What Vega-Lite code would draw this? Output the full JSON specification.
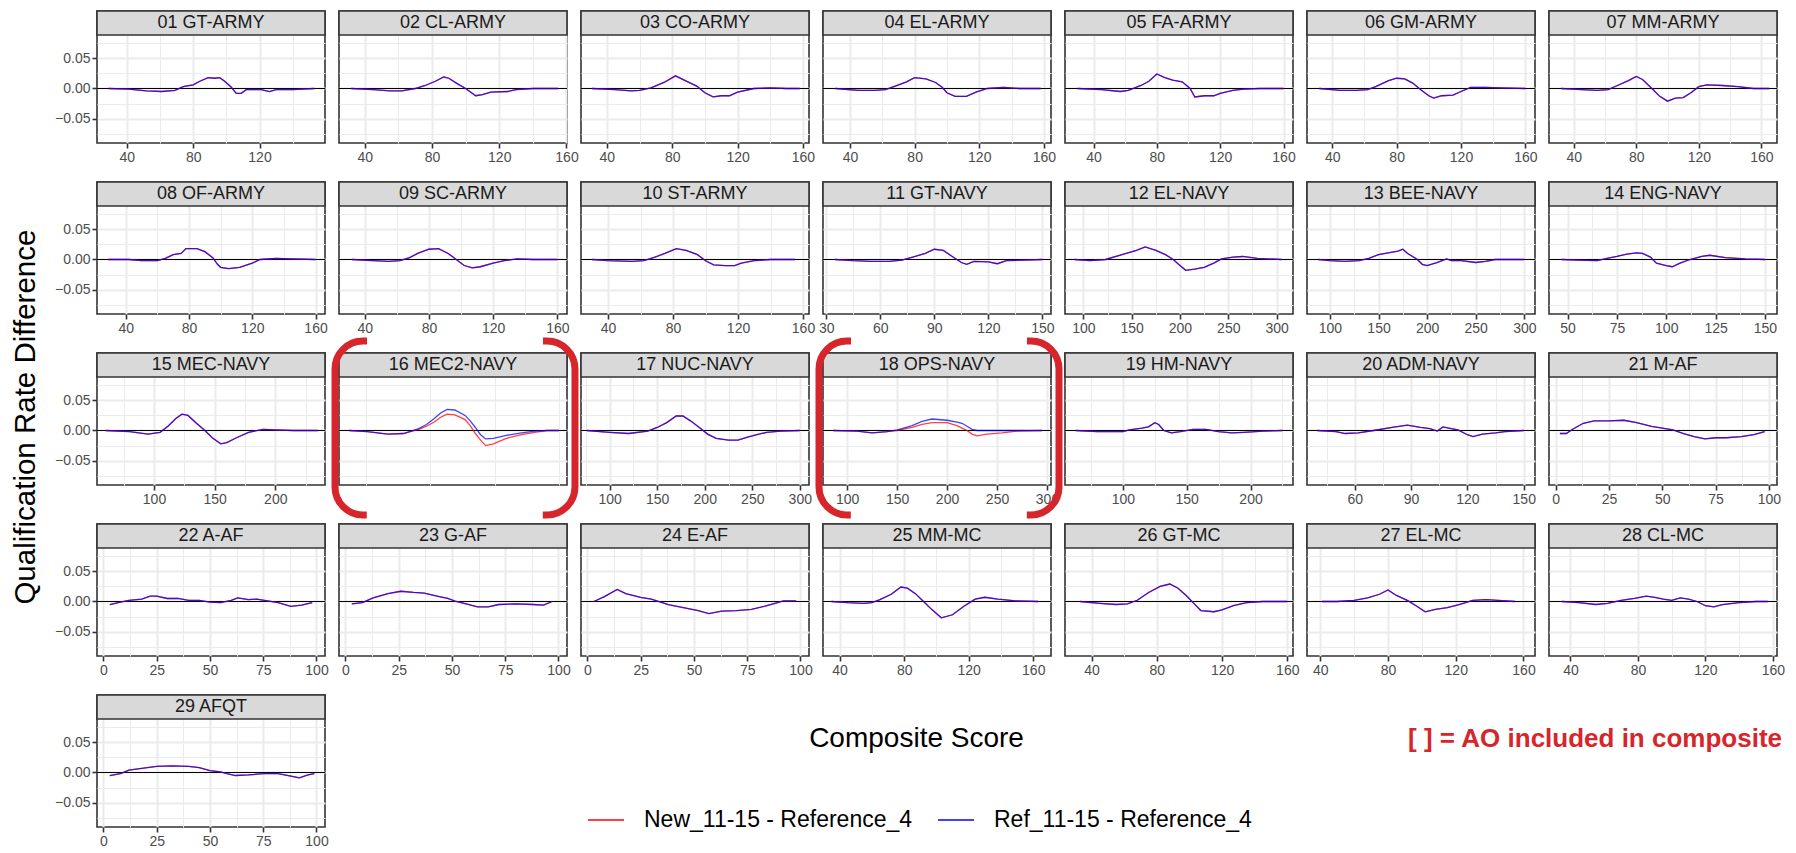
{
"$schema":"https://vega.github.io/schema/vega-lite/v6.json",
"padding":{"left":11,"top":9,"right":0,"bottom":0},
"config":{
 "font":"Liberation Sans",
 "view":{"stroke":"#333333","strokeWidth":1.6},
 "axis":{"domain":false,"grid":true,"gridColor":"#ebebeb","tickColor":"#333333","tickWidth":1.6,"tickSize":5,"labelColor":"#4d4d4d","labelFontSize":14,"labelPadding":2,"labelFlush":false,"labelOverlap":false},
 "rect":{"fill":"#d9d9d9","stroke":"#333333","strokeWidth":1.6},
 "text":{"fontSize":18,"color":"#1a1a1a","baseline":"middle"},
 "rule":{"color":"#000000","strokeWidth":1},
 "line":{"strokeWidth":1.3,"opacity":0.75},
 "legend":{"orient":"none","legendX":490,"legendY":790,"direction":"horizontal","labelFontSize":23,"labelColor":"#000000","labelLimit":0,"symbolType":"stroke","symbolSize":1296,"symbolStrokeWidth":1.5,"labelOffset":19,"columnPadding":22,"padding":0},
 "title":{"fontSize":29.5,"fontWeight":"normal","color":"#000000"}
},
"title":{"text":"Qualification Rate Difference","orient":"left","anchor":"middle","offset":12,"frame":"bounds","dx":12},
"datasets":{
"panels":[{"p":1,"name":"01 GT-ARMY"},{"p":2,"name":"02 CL-ARMY"},{"p":3,"name":"03 CO-ARMY"},{"p":4,"name":"04 EL-ARMY"},{"p":5,"name":"05 FA-ARMY"},{"p":6,"name":"06 GM-ARMY"},{"p":7,"name":"07 MM-ARMY"},{"p":8,"name":"08 OF-ARMY"},{"p":9,"name":"09 SC-ARMY"},{"p":10,"name":"10 ST-ARMY"},{"p":11,"name":"11 GT-NAVY"},{"p":12,"name":"12 EL-NAVY"},{"p":13,"name":"13 BEE-NAVY"},{"p":14,"name":"14 ENG-NAVY"},{"p":15,"name":"15 MEC-NAVY"},{"p":16,"name":"16 MEC2-NAVY"},{"p":17,"name":"17 NUC-NAVY"},{"p":18,"name":"18 OPS-NAVY"},{"p":19,"name":"19 HM-NAVY"},{"p":20,"name":"20 ADM-NAVY"},{"p":21,"name":"21 M-AF"},{"p":22,"name":"22 A-AF"},{"p":23,"name":"23 G-AF"},{"p":24,"name":"24 E-AF"},{"p":25,"name":"25 MM-MC"},{"p":26,"name":"26 GT-MC"},{"p":27,"name":"27 EL-MC"},{"p":28,"name":"28 CL-MC"},{"p":29,"name":"29 AFQT"}],
"notes":[{"k":"x","label":"Composite Score"},{"k":"ao","label":"[ ] = AO included in composite"}],
"curves":[
{"p":1,"x":29,"n":0,"r":0},{"p":1,"x":41,"n":-0.001,"r":-0.001},{"p":1,"x":52,"n":-0.004,"r":-0.004},{"p":1,"x":61,"n":-0.005,"r":-0.005},{"p":1,"x":69,"n":-0.003,"r":-0.003},{"p":1,"x":74,"n":0.003,"r":0.003},{"p":1,"x":80,"n":0.006,"r":0.006},{"p":1,"x":84,"n":0.012,"r":0.012},{"p":1,"x":89,"n":0.018,"r":0.018},{"p":1,"x":93,"n":0.017,"r":0.017},{"p":1,"x":96,"n":0.018,"r":0.018},{"p":1,"x":99,"n":0.012,"r":0.012},{"p":1,"x":103,"n":0.002,"r":0.002},{"p":1,"x":106,"n":-0.008,"r":-0.008},{"p":1,"x":109,"n":-0.008,"r":-0.008},{"p":1,"x":112,"n":-0.002,"r":-0.002},{"p":1,"x":121,"n":-0.002,"r":-0.002},{"p":1,"x":126,"n":-0.005,"r":-0.005},{"p":1,"x":130,"n":-0.002,"r":-0.002},{"p":1,"x":140,"n":-0.002,"r":-0.002},{"p":1,"x":153,"n":0,"r":0},
{"p":2,"x":32,"n":0,"r":0},{"p":2,"x":45,"n":-0.002,"r":-0.002},{"p":2,"x":55,"n":-0.004,"r":-0.004},{"p":2,"x":62,"n":-0.004,"r":-0.004},{"p":2,"x":70,"n":0,"r":0},{"p":2,"x":76,"n":0.005,"r":0.005},{"p":2,"x":82,"n":0.012,"r":0.012},{"p":2,"x":87,"n":0.019,"r":0.019},{"p":2,"x":90,"n":0.017,"r":0.017},{"p":2,"x":95,"n":0.008,"r":0.008},{"p":2,"x":100,"n":0,"r":0},{"p":2,"x":106,"n":-0.012,"r":-0.012},{"p":2,"x":110,"n":-0.010,"r":-0.010},{"p":2,"x":115,"n":-0.006,"r":-0.006},{"p":2,"x":125,"n":-0.005,"r":-0.005},{"p":2,"x":130,"n":-0.002,"r":-0.002},{"p":2,"x":140,"n":0,"r":0},{"p":2,"x":155,"n":0,"r":0},
{"p":3,"x":31,"n":0,"r":0},{"p":3,"x":45,"n":-0.002,"r":-0.002},{"p":3,"x":55,"n":-0.004,"r":-0.004},{"p":3,"x":60,"n":-0.003,"r":-0.003},{"p":3,"x":67,"n":0.001,"r":0.001},{"p":3,"x":75,"n":0.010,"r":0.010},{"p":3,"x":82,"n":0.021,"r":0.021},{"p":3,"x":88,"n":0.013,"r":0.013},{"p":3,"x":95,"n":0.004,"r":0.004},{"p":3,"x":100,"n":-0.007,"r":-0.007},{"p":3,"x":105,"n":-0.014,"r":-0.014},{"p":3,"x":110,"n":-0.012,"r":-0.012},{"p":3,"x":115,"n":-0.012,"r":-0.012},{"p":3,"x":120,"n":-0.006,"r":-0.006},{"p":3,"x":130,"n":0,"r":0},{"p":3,"x":140,"n":0.001,"r":0.001},{"p":3,"x":150,"n":0,"r":0},{"p":3,"x":158,"n":0,"r":0},
{"p":4,"x":31,"n":0,"r":0},{"p":4,"x":45,"n":-0.003,"r":-0.003},{"p":4,"x":55,"n":-0.003,"r":-0.003},{"p":4,"x":62,"n":-0.002,"r":-0.002},{"p":4,"x":68,"n":0.004,"r":0.004},{"p":4,"x":75,"n":0.011,"r":0.011},{"p":4,"x":80,"n":0.018,"r":0.018},{"p":4,"x":87,"n":0.016,"r":0.016},{"p":4,"x":93,"n":0.010,"r":0.010},{"p":4,"x":97,"n":0.002,"r":0.002},{"p":4,"x":100,"n":-0.007,"r":-0.007},{"p":4,"x":105,"n":-0.013,"r":-0.013},{"p":4,"x":112,"n":-0.013,"r":-0.013},{"p":4,"x":118,"n":-0.006,"r":-0.006},{"p":4,"x":125,"n":0,"r":0},{"p":4,"x":135,"n":0.002,"r":0.002},{"p":4,"x":145,"n":0,"r":0},{"p":4,"x":158,"n":0,"r":0},
{"p":5,"x":30,"n":0,"r":0},{"p":5,"x":45,"n":-0.002,"r":-0.002},{"p":5,"x":57,"n":-0.005,"r":-0.005},{"p":5,"x":62,"n":-0.003,"r":-0.003},{"p":5,"x":70,"n":0.005,"r":0.005},{"p":5,"x":75,"n":0.012,"r":0.012},{"p":5,"x":80,"n":0.024,"r":0.024},{"p":5,"x":85,"n":0.018,"r":0.018},{"p":5,"x":90,"n":0.014,"r":0.014},{"p":5,"x":96,"n":0.011,"r":0.011},{"p":5,"x":101,"n":0,"r":0},{"p":5,"x":104,"n":-0.014,"r":-0.014},{"p":5,"x":110,"n":-0.012,"r":-0.012},{"p":5,"x":116,"n":-0.012,"r":-0.012},{"p":5,"x":120,"n":-0.008,"r":-0.008},{"p":5,"x":128,"n":-0.003,"r":-0.003},{"p":5,"x":135,"n":-0.001,"r":-0.001},{"p":5,"x":145,"n":0,"r":0},{"p":5,"x":160,"n":0,"r":0},
{"p":6,"x":32,"n":0,"r":0},{"p":6,"x":45,"n":-0.003,"r":-0.003},{"p":6,"x":55,"n":-0.003,"r":-0.003},{"p":6,"x":62,"n":-0.002,"r":-0.002},{"p":6,"x":67,"n":0.003,"r":0.003},{"p":6,"x":75,"n":0.013,"r":0.013},{"p":6,"x":80,"n":0.017,"r":0.017},{"p":6,"x":85,"n":0.016,"r":0.016},{"p":6,"x":90,"n":0.009,"r":0.009},{"p":6,"x":95,"n":-0.002,"r":-0.002},{"p":6,"x":100,"n":-0.012,"r":-0.012},{"p":6,"x":103,"n":-0.016,"r":-0.016},{"p":6,"x":108,"n":-0.012,"r":-0.012},{"p":6,"x":115,"n":-0.011,"r":-0.011},{"p":6,"x":120,"n":-0.005,"r":-0.005},{"p":6,"x":126,"n":0.002,"r":0.002},{"p":6,"x":135,"n":0.002,"r":0.002},{"p":6,"x":145,"n":0.001,"r":0.001},{"p":6,"x":160,"n":0,"r":0},
{"p":7,"x":32,"n":0,"r":0},{"p":7,"x":45,"n":-0.002,"r":-0.002},{"p":7,"x":55,"n":-0.003,"r":-0.003},{"p":7,"x":62,"n":-0.002,"r":-0.002},{"p":7,"x":68,"n":0.005,"r":0.005},{"p":7,"x":75,"n":0.013,"r":0.013},{"p":7,"x":80,"n":0.020,"r":0.020},{"p":7,"x":84,"n":0.015,"r":0.015},{"p":7,"x":90,"n":0,"r":0},{"p":7,"x":95,"n":-0.013,"r":-0.013},{"p":7,"x":100,"n":-0.021,"r":-0.021},{"p":7,"x":105,"n":-0.016,"r":-0.016},{"p":7,"x":110,"n":-0.015,"r":-0.015},{"p":7,"x":115,"n":-0.007,"r":-0.007},{"p":7,"x":120,"n":0.003,"r":0.003},{"p":7,"x":125,"n":0.006,"r":0.006},{"p":7,"x":135,"n":0.005,"r":0.005},{"p":7,"x":145,"n":0.003,"r":0.003},{"p":7,"x":155,"n":0,"r":0},{"p":7,"x":165,"n":0,"r":0},
{"p":8,"x":29,"n":0,"r":0},{"p":8,"x":42,"n":0,"r":0},{"p":8,"x":50,"n":-0.002,"r":-0.002},{"p":8,"x":60,"n":-0.002,"r":-0.002},{"p":8,"x":65,"n":0.002,"r":0.002},{"p":8,"x":70,"n":0.008,"r":0.008},{"p":8,"x":75,"n":0.010,"r":0.010},{"p":8,"x":78,"n":0.018,"r":0.018},{"p":8,"x":85,"n":0.018,"r":0.018},{"p":8,"x":90,"n":0.013,"r":0.013},{"p":8,"x":95,"n":0.003,"r":0.003},{"p":8,"x":98,"n":-0.008,"r":-0.008},{"p":8,"x":100,"n":-0.013,"r":-0.013},{"p":8,"x":105,"n":-0.015,"r":-0.015},{"p":8,"x":112,"n":-0.013,"r":-0.013},{"p":8,"x":120,"n":-0.006,"r":-0.006},{"p":8,"x":125,"n":0,"r":0},{"p":8,"x":135,"n":0.002,"r":0.002},{"p":8,"x":145,"n":0.001,"r":0.001},{"p":8,"x":160,"n":0,"r":0},
{"p":9,"x":32,"n":0,"r":0},{"p":9,"x":45,"n":-0.002,"r":-0.002},{"p":9,"x":55,"n":-0.003,"r":-0.003},{"p":9,"x":62,"n":-0.002,"r":-0.002},{"p":9,"x":68,"n":0.003,"r":0.003},{"p":9,"x":73,"n":0.010,"r":0.010},{"p":9,"x":80,"n":0.017,"r":0.017},{"p":9,"x":86,"n":0.018,"r":0.018},{"p":9,"x":92,"n":0.010,"r":0.010},{"p":9,"x":97,"n":0,"r":0},{"p":9,"x":102,"n":-0.010,"r":-0.010},{"p":9,"x":107,"n":-0.014,"r":-0.014},{"p":9,"x":112,"n":-0.012,"r":-0.012},{"p":9,"x":120,"n":-0.006,"r":-0.006},{"p":9,"x":127,"n":-0.002,"r":-0.002},{"p":9,"x":135,"n":0.001,"r":0.001},{"p":9,"x":145,"n":0,"r":0},{"p":9,"x":160,"n":0,"r":0},
{"p":10,"x":30,"n":0,"r":0},{"p":10,"x":40,"n":-0.002,"r":-0.002},{"p":10,"x":55,"n":-0.003,"r":-0.003},{"p":10,"x":62,"n":-0.002,"r":-0.002},{"p":10,"x":68,"n":0.003,"r":0.003},{"p":10,"x":75,"n":0.010,"r":0.010},{"p":10,"x":82,"n":0.018,"r":0.018},{"p":10,"x":88,"n":0.015,"r":0.015},{"p":10,"x":95,"n":0.008,"r":0.008},{"p":10,"x":100,"n":-0.002,"r":-0.002},{"p":10,"x":105,"n":-0.009,"r":-0.009},{"p":10,"x":112,"n":-0.010,"r":-0.010},{"p":10,"x":118,"n":-0.010,"r":-0.010},{"p":10,"x":122,"n":-0.006,"r":-0.006},{"p":10,"x":130,"n":-0.002,"r":-0.002},{"p":10,"x":140,"n":0,"r":0},{"p":10,"x":155,"n":0,"r":0},
{"p":11,"x":35,"n":0,"r":0},{"p":11,"x":45,"n":-0.002,"r":-0.002},{"p":11,"x":55,"n":-0.003,"r":-0.003},{"p":11,"x":65,"n":-0.003,"r":-0.003},{"p":11,"x":72,"n":-0.001,"r":-0.001},{"p":11,"x":78,"n":0.004,"r":0.004},{"p":11,"x":85,"n":0.010,"r":0.010},{"p":11,"x":90,"n":0.017,"r":0.017},{"p":11,"x":95,"n":0.015,"r":0.015},{"p":11,"x":100,"n":0.005,"r":0.005},{"p":11,"x":105,"n":-0.005,"r":-0.005},{"p":11,"x":108,"n":-0.008,"r":-0.008},{"p":11,"x":112,"n":-0.003,"r":-0.003},{"p":11,"x":120,"n":-0.004,"r":-0.004},{"p":11,"x":125,"n":-0.007,"r":-0.007},{"p":11,"x":130,"n":-0.002,"r":-0.002},{"p":11,"x":140,"n":-0.001,"r":-0.001},{"p":11,"x":150,"n":0,"r":0},
{"p":12,"x":91,"n":0,"r":0},{"p":12,"x":107,"n":-0.002,"r":-0.002},{"p":12,"x":123,"n":0,"r":0},{"p":12,"x":140,"n":0.008,"r":0.008},{"p":12,"x":155,"n":0.015,"r":0.015},{"p":12,"x":164,"n":0.021,"r":0.021},{"p":12,"x":175,"n":0.015,"r":0.015},{"p":12,"x":185,"n":0.008,"r":0.008},{"p":12,"x":193,"n":0,"r":0},{"p":12,"x":200,"n":-0.010,"r":-0.010},{"p":12,"x":206,"n":-0.018,"r":-0.018},{"p":12,"x":215,"n":-0.016,"r":-0.016},{"p":12,"x":225,"n":-0.013,"r":-0.013},{"p":12,"x":235,"n":-0.006,"r":-0.006},{"p":12,"x":243,"n":0.001,"r":0.001},{"p":12,"x":255,"n":0.004,"r":0.004},{"p":12,"x":265,"n":0.005,"r":0.005},{"p":12,"x":280,"n":0.002,"r":0.002},{"p":12,"x":305,"n":0,"r":0},
{"p":13,"x":88,"n":0,"r":0},{"p":13,"x":100,"n":-0.002,"r":-0.002},{"p":13,"x":115,"n":-0.003,"r":-0.003},{"p":13,"x":130,"n":-0.002,"r":-0.002},{"p":13,"x":140,"n":0.002,"r":0.002},{"p":13,"x":150,"n":0.008,"r":0.008},{"p":13,"x":160,"n":0.011,"r":0.011},{"p":13,"x":170,"n":0.014,"r":0.014},{"p":13,"x":175,"n":0.017,"r":0.017},{"p":13,"x":180,"n":0.010,"r":0.010},{"p":13,"x":190,"n":0,"r":0},{"p":13,"x":195,"n":-0.008,"r":-0.008},{"p":13,"x":200,"n":-0.010,"r":-0.010},{"p":13,"x":210,"n":-0.005,"r":-0.005},{"p":13,"x":220,"n":0.001,"r":0.001},{"p":13,"x":225,"n":-0.002,"r":-0.002},{"p":13,"x":235,"n":-0.002,"r":-0.002},{"p":13,"x":250,"n":-0.005,"r":-0.005},{"p":13,"x":260,"n":-0.003,"r":-0.003},{"p":13,"x":270,"n":0,"r":0},{"p":13,"x":300,"n":0,"r":0},
{"p":14,"x":47,"n":0,"r":0},{"p":14,"x":55,"n":-0.001,"r":-0.001},{"p":14,"x":65,"n":-0.002,"r":-0.002},{"p":14,"x":70,"n":0.002,"r":0.002},{"p":14,"x":75,"n":0.005,"r":0.005},{"p":14,"x":80,"n":0.009,"r":0.009},{"p":14,"x":85,"n":0.011,"r":0.011},{"p":14,"x":88,"n":0.010,"r":0.010},{"p":14,"x":92,"n":0.004,"r":0.004},{"p":14,"x":95,"n":-0.006,"r":-0.006},{"p":14,"x":100,"n":-0.010,"r":-0.010},{"p":14,"x":103,"n":-0.012,"r":-0.012},{"p":14,"x":107,"n":-0.006,"r":-0.006},{"p":14,"x":112,"n":0,"r":0},{"p":14,"x":118,"n":0.005,"r":0.005},{"p":14,"x":122,"n":0.007,"r":0.007},{"p":14,"x":130,"n":0.003,"r":0.003},{"p":14,"x":140,"n":0.001,"r":0.001},{"p":14,"x":150,"n":0,"r":0},
{"p":15,"x":60,"n":0,"r":0},{"p":15,"x":80,"n":-0.002,"r":-0.002},{"p":15,"x":95,"n":-0.006,"r":-0.006},{"p":15,"x":105,"n":-0.003,"r":-0.003},{"p":15,"x":112,"n":0.008,"r":0.008},{"p":15,"x":118,"n":0.020,"r":0.020},{"p":15,"x":123,"n":0.027,"r":0.027},{"p":15,"x":128,"n":0.025,"r":0.025},{"p":15,"x":135,"n":0.012,"r":0.012},{"p":15,"x":142,"n":0,"r":0},{"p":15,"x":148,"n":-0.012,"r":-0.012},{"p":15,"x":155,"n":-0.022,"r":-0.022},{"p":15,"x":160,"n":-0.020,"r":-0.020},{"p":15,"x":168,"n":-0.012,"r":-0.012},{"p":15,"x":178,"n":-0.003,"r":-0.003},{"p":15,"x":190,"n":0.002,"r":0.002},{"p":15,"x":200,"n":0.001,"r":0.001},{"p":15,"x":215,"n":0,"r":0},{"p":15,"x":235,"n":0,"r":0},
{"p":16,"x":62,"n":0,"r":0},{"p":16,"x":76,"n":-0.002,"r":-0.002},{"p":16,"x":92,"n":-0.006,"r":-0.006},{"p":16,"x":104,"n":-0.005,"r":-0.005},{"p":16,"x":116,"n":0.002,"r":0.003},{"p":16,"x":122,"n":0.007,"r":0.010},{"p":16,"x":128,"n":0.014,"r":0.020},{"p":16,"x":133,"n":0.022,"r":0.029},{"p":16,"x":138,"n":0.027,"r":0.035},{"p":16,"x":144,"n":0.026,"r":0.034},{"p":16,"x":152,"n":0.018,"r":0.025},{"p":16,"x":156,"n":0.008,"r":0.016},{"p":16,"x":160,"n":-0.005,"r":0.005},{"p":16,"x":164,"n":-0.016,"r":-0.007},{"p":16,"x":168,"n":-0.025,"r":-0.014},{"p":16,"x":174,"n":-0.022,"r":-0.013},{"p":16,"x":184,"n":-0.013,"r":-0.008},{"p":16,"x":196,"n":-0.007,"r":-0.004},{"p":16,"x":206,"n":-0.003,"r":-0.001},{"p":16,"x":216,"n":0,"r":0},{"p":16,"x":225,"n":0,"r":0},
{"p":17,"x":76,"n":0,"r":0},{"p":17,"x":100,"n":-0.003,"r":-0.003},{"p":17,"x":120,"n":-0.005,"r":-0.005},{"p":17,"x":140,"n":-0.001,"r":-0.001},{"p":17,"x":150,"n":0.005,"r":0.005},{"p":17,"x":160,"n":0.013,"r":0.013},{"p":17,"x":170,"n":0.024,"r":0.024},{"p":17,"x":177,"n":0.024,"r":0.024},{"p":17,"x":185,"n":0.016,"r":0.016},{"p":17,"x":195,"n":0.004,"r":0.004},{"p":17,"x":203,"n":-0.006,"r":-0.006},{"p":17,"x":212,"n":-0.013,"r":-0.013},{"p":17,"x":225,"n":-0.016,"r":-0.016},{"p":17,"x":235,"n":-0.016,"r":-0.016},{"p":17,"x":245,"n":-0.011,"r":-0.011},{"p":17,"x":255,"n":-0.007,"r":-0.007},{"p":17,"x":265,"n":-0.003,"r":-0.003},{"p":17,"x":280,"n":-0.001,"r":-0.001},{"p":17,"x":300,"n":0,"r":0},
{"p":18,"x":86,"n":0,"r":0},{"p":18,"x":110,"n":-0.001,"r":-0.001},{"p":18,"x":125,"n":-0.004,"r":-0.004},{"p":18,"x":140,"n":-0.002,"r":-0.002},{"p":18,"x":150,"n":0,"r":0.001},{"p":18,"x":155,"n":0.002,"r":0.003},{"p":18,"x":165,"n":0.005,"r":0.008},{"p":18,"x":175,"n":0.010,"r":0.015},{"p":18,"x":185,"n":0.013,"r":0.019},{"p":18,"x":200,"n":0.013,"r":0.017},{"p":18,"x":210,"n":0.008,"r":0.014},{"p":18,"x":215,"n":0.004,"r":0.012},{"p":18,"x":220,"n":0,"r":0.007},{"p":18,"x":225,"n":-0.006,"r":0.002},{"p":18,"x":230,"n":-0.009,"r":0},{"p":18,"x":240,"n":-0.006,"r":0},{"p":18,"x":255,"n":-0.004,"r":0},{"p":18,"x":270,"n":-0.001,"r":0},{"p":18,"x":295,"n":0,"r":0},
{"p":19,"x":63,"n":0,"r":0},{"p":19,"x":80,"n":-0.002,"r":-0.002},{"p":19,"x":100,"n":-0.002,"r":-0.002},{"p":19,"x":105,"n":0.001,"r":0.001},{"p":19,"x":115,"n":0.004,"r":0.004},{"p":19,"x":120,"n":0.006,"r":0.006},{"p":19,"x":125,"n":0.013,"r":0.013},{"p":19,"x":128,"n":0.010,"r":0.010},{"p":19,"x":132,"n":0,"r":0},{"p":19,"x":138,"n":-0.004,"r":-0.004},{"p":19,"x":145,"n":-0.002,"r":-0.002},{"p":19,"x":155,"n":0.002,"r":0.002},{"p":19,"x":165,"n":0.002,"r":0.002},{"p":19,"x":175,"n":-0.002,"r":-0.002},{"p":19,"x":185,"n":-0.004,"r":-0.004},{"p":19,"x":195,"n":-0.003,"r":-0.003},{"p":19,"x":210,"n":-0.001,"r":-0.001},{"p":19,"x":225,"n":0,"r":0},
{"p":20,"x":40,"n":0,"r":0},{"p":20,"x":50,"n":-0.002,"r":-0.002},{"p":20,"x":55,"n":-0.005,"r":-0.005},{"p":20,"x":62,"n":-0.004,"r":-0.004},{"p":20,"x":70,"n":0,"r":0},{"p":20,"x":80,"n":0.005,"r":0.005},{"p":20,"x":88,"n":0.009,"r":0.009},{"p":20,"x":95,"n":0.005,"r":0.005},{"p":20,"x":100,"n":0.003,"r":0.003},{"p":20,"x":104,"n":-0.001,"r":-0.001},{"p":20,"x":107,"n":0.006,"r":0.006},{"p":20,"x":110,"n":0.004,"r":0.004},{"p":20,"x":115,"n":0.001,"r":0.001},{"p":20,"x":120,"n":-0.007,"r":-0.007},{"p":20,"x":123,"n":-0.010,"r":-0.010},{"p":20,"x":128,"n":-0.006,"r":-0.006},{"p":20,"x":135,"n":-0.004,"r":-0.004},{"p":20,"x":140,"n":-0.002,"r":-0.002},{"p":20,"x":150,"n":0,"r":0},
{"p":21,"x":2,"n":-0.005,"r":-0.005},{"p":21,"x":5,"n":-0.005,"r":-0.005},{"p":21,"x":8,"n":0.002,"r":0.002},{"p":21,"x":13,"n":0.012,"r":0.012},{"p":21,"x":18,"n":0.016,"r":0.016},{"p":21,"x":25,"n":0.016,"r":0.016},{"p":21,"x":32,"n":0.017,"r":0.017},{"p":21,"x":38,"n":0.013,"r":0.013},{"p":21,"x":45,"n":0.007,"r":0.007},{"p":21,"x":50,"n":0.004,"r":0.004},{"p":21,"x":55,"n":0.001,"r":0.001},{"p":21,"x":60,"n":-0.005,"r":-0.005},{"p":21,"x":65,"n":-0.010,"r":-0.010},{"p":21,"x":70,"n":-0.014,"r":-0.014},{"p":21,"x":75,"n":-0.012,"r":-0.012},{"p":21,"x":80,"n":-0.012,"r":-0.012},{"p":21,"x":87,"n":-0.010,"r":-0.010},{"p":21,"x":93,"n":-0.007,"r":-0.007},{"p":21,"x":98,"n":-0.002,"r":-0.002},
{"p":22,"x":3,"n":-0.005,"r":-0.005},{"p":22,"x":8,"n":-0.001,"r":-0.001},{"p":22,"x":12,"n":0.002,"r":0.002},{"p":22,"x":18,"n":0.004,"r":0.004},{"p":22,"x":22,"n":0.009,"r":0.009},{"p":22,"x":25,"n":0.009,"r":0.009},{"p":22,"x":30,"n":0.005,"r":0.005},{"p":22,"x":35,"n":0.005,"r":0.005},{"p":22,"x":40,"n":0.002,"r":0.002},{"p":22,"x":45,"n":0.002,"r":0.002},{"p":22,"x":50,"n":-0.001,"r":-0.001},{"p":22,"x":55,"n":-0.002,"r":-0.002},{"p":22,"x":60,"n":0.002,"r":0.002},{"p":22,"x":63,"n":0.006,"r":0.006},{"p":22,"x":68,"n":0.003,"r":0.003},{"p":22,"x":72,"n":0.004,"r":0.004},{"p":22,"x":77,"n":0.001,"r":0.001},{"p":22,"x":82,"n":-0.002,"r":-0.002},{"p":22,"x":88,"n":-0.008,"r":-0.008},{"p":22,"x":93,"n":-0.006,"r":-0.006},{"p":22,"x":98,"n":-0.002,"r":-0.002},
{"p":23,"x":3,"n":-0.004,"r":-0.004},{"p":23,"x":8,"n":-0.002,"r":-0.002},{"p":23,"x":13,"n":0.006,"r":0.006},{"p":23,"x":20,"n":0.013,"r":0.013},{"p":23,"x":26,"n":0.017,"r":0.017},{"p":23,"x":32,"n":0.015,"r":0.015},{"p":23,"x":37,"n":0.014,"r":0.014},{"p":23,"x":43,"n":0.009,"r":0.009},{"p":23,"x":48,"n":0.005,"r":0.005},{"p":23,"x":52,"n":0,"r":0},{"p":23,"x":58,"n":-0.005,"r":-0.005},{"p":23,"x":62,"n":-0.009,"r":-0.009},{"p":23,"x":67,"n":-0.009,"r":-0.009},{"p":23,"x":72,"n":-0.005,"r":-0.005},{"p":23,"x":80,"n":-0.004,"r":-0.004},{"p":23,"x":88,"n":-0.005,"r":-0.005},{"p":23,"x":93,"n":-0.006,"r":-0.006},{"p":23,"x":97,"n":0,"r":0},
{"p":24,"x":3,"n":0,"r":0},{"p":24,"x":8,"n":0.008,"r":0.008},{"p":24,"x":14,"n":0.020,"r":0.020},{"p":24,"x":18,"n":0.013,"r":0.013},{"p":24,"x":25,"n":0.007,"r":0.007},{"p":24,"x":30,"n":0.004,"r":0.004},{"p":24,"x":38,"n":-0.005,"r":-0.005},{"p":24,"x":45,"n":-0.010,"r":-0.010},{"p":24,"x":52,"n":-0.015,"r":-0.015},{"p":24,"x":57,"n":-0.020,"r":-0.020},{"p":24,"x":63,"n":-0.016,"r":-0.016},{"p":24,"x":70,"n":-0.015,"r":-0.015},{"p":24,"x":77,"n":-0.013,"r":-0.013},{"p":24,"x":83,"n":-0.008,"r":-0.008},{"p":24,"x":88,"n":-0.003,"r":-0.003},{"p":24,"x":92,"n":0.001,"r":0.001},{"p":24,"x":98,"n":0.001,"r":0.001},
{"p":25,"x":35,"n":0,"r":0},{"p":25,"x":45,"n":-0.002,"r":-0.002},{"p":25,"x":55,"n":-0.003,"r":-0.003},{"p":25,"x":60,"n":-0.002,"r":-0.002},{"p":25,"x":65,"n":0.003,"r":0.003},{"p":25,"x":72,"n":0.012,"r":0.012},{"p":25,"x":78,"n":0.024,"r":0.024},{"p":25,"x":82,"n":0.022,"r":0.022},{"p":25,"x":87,"n":0.013,"r":0.013},{"p":25,"x":92,"n":0,"r":0},{"p":25,"x":97,"n":-0.013,"r":-0.013},{"p":25,"x":103,"n":-0.027,"r":-0.027},{"p":25,"x":110,"n":-0.022,"r":-0.022},{"p":25,"x":117,"n":-0.008,"r":-0.008},{"p":25,"x":124,"n":0.004,"r":0.004},{"p":25,"x":130,"n":0.007,"r":0.007},{"p":25,"x":138,"n":0.004,"r":0.004},{"p":25,"x":149,"n":0.001,"r":0.001},{"p":25,"x":163,"n":0,"r":0},
{"p":26,"x":33,"n":0,"r":0},{"p":26,"x":45,"n":-0.003,"r":-0.003},{"p":26,"x":55,"n":-0.005,"r":-0.005},{"p":26,"x":62,"n":-0.004,"r":-0.004},{"p":26,"x":68,"n":0.002,"r":0.002},{"p":26,"x":75,"n":0.015,"r":0.015},{"p":26,"x":82,"n":0.025,"r":0.025},{"p":26,"x":88,"n":0.029,"r":0.029},{"p":26,"x":93,"n":0.022,"r":0.022},{"p":26,"x":98,"n":0.010,"r":0.010},{"p":26,"x":103,"n":-0.004,"r":-0.004},{"p":26,"x":107,"n":-0.015,"r":-0.015},{"p":26,"x":115,"n":-0.017,"r":-0.017},{"p":26,"x":120,"n":-0.014,"r":-0.014},{"p":26,"x":127,"n":-0.007,"r":-0.007},{"p":26,"x":135,"n":-0.002,"r":-0.002},{"p":26,"x":145,"n":0,"r":0},{"p":26,"x":160,"n":0,"r":0},
{"p":27,"x":41,"n":0,"r":0},{"p":27,"x":50,"n":0,"r":0},{"p":27,"x":60,"n":0.002,"r":0.002},{"p":27,"x":68,"n":0.006,"r":0.006},{"p":27,"x":75,"n":0.012,"r":0.012},{"p":27,"x":80,"n":0.019,"r":0.019},{"p":27,"x":85,"n":0.010,"r":0.010},{"p":27,"x":92,"n":0.001,"r":0.001},{"p":27,"x":97,"n":-0.008,"r":-0.008},{"p":27,"x":102,"n":-0.017,"r":-0.017},{"p":27,"x":108,"n":-0.013,"r":-0.013},{"p":27,"x":115,"n":-0.010,"r":-0.010},{"p":27,"x":122,"n":-0.005,"r":-0.005},{"p":27,"x":130,"n":0.002,"r":0.002},{"p":27,"x":138,"n":0.003,"r":0.003},{"p":27,"x":145,"n":0.002,"r":0.002},{"p":27,"x":155,"n":0,"r":0},
{"p":28,"x":35,"n":0,"r":0},{"p":28,"x":45,"n":-0.002,"r":-0.002},{"p":28,"x":55,"n":-0.005,"r":-0.005},{"p":28,"x":62,"n":-0.003,"r":-0.003},{"p":28,"x":70,"n":0.002,"r":0.002},{"p":28,"x":78,"n":0.005,"r":0.005},{"p":28,"x":85,"n":0.009,"r":0.009},{"p":28,"x":90,"n":0.007,"r":0.007},{"p":28,"x":95,"n":0.004,"r":0.004},{"p":28,"x":100,"n":0.002,"r":0.002},{"p":28,"x":105,"n":0.006,"r":0.006},{"p":28,"x":110,"n":0.004,"r":0.004},{"p":28,"x":115,"n":0,"r":0},{"p":28,"x":120,"n":-0.007,"r":-0.007},{"p":28,"x":125,"n":-0.009,"r":-0.009},{"p":28,"x":130,"n":-0.005,"r":-0.005},{"p":28,"x":140,"n":-0.002,"r":-0.002},{"p":28,"x":150,"n":0,"r":0},{"p":28,"x":157,"n":0,"r":0},
{"p":29,"x":3,"n":-0.005,"r":-0.005},{"p":29,"x":8,"n":-0.002,"r":-0.002},{"p":29,"x":12,"n":0.004,"r":0.004},{"p":29,"x":18,"n":0.007,"r":0.007},{"p":29,"x":25,"n":0.010,"r":0.010},{"p":29,"x":32,"n":0.011,"r":0.011},{"p":29,"x":40,"n":0.010,"r":0.010},{"p":29,"x":45,"n":0.008,"r":0.008},{"p":29,"x":50,"n":0.003,"r":0.003},{"p":29,"x":55,"n":0.001,"r":0.001},{"p":29,"x":58,"n":-0.002,"r":-0.002},{"p":29,"x":62,"n":-0.005,"r":-0.005},{"p":29,"x":68,"n":-0.004,"r":-0.004},{"p":29,"x":75,"n":-0.002,"r":-0.002},{"p":29,"x":82,"n":-0.002,"r":-0.002},{"p":29,"x":88,"n":-0.006,"r":-0.006},{"p":29,"x":92,"n":-0.009,"r":-0.009},{"p":29,"x":96,"n":-0.004,"r":-0.004},{"p":29,"x":99,"n":-0.002,"r":-0.002}
]},
"columns":7,
"align":"none",
"bounds":"flush",
"spacing":{"row":39,"column":14},
"concat":[
{"width":228,"height":132,"data":{"name":"panels"},"transform":[{"filter":"datum.p==1"}],"resolve":{"axis":{"y":"independent"}},"layer":[
{"mark":"rect","encoding":{"y":{"datum":0.0886,"type":"quantitative","axis":null},"y2":{"datum":0.1284}}},
{"mark":"text","encoding":{"y":{"datum":0.1085,"type":"quantitative","axis":null},"text":{"field":"name"}}},
{"mark":"rule","encoding":{"y":{"datum":0,"type":"quantitative","axis":{"title":null,"orient":"left","grid":true,"values":[-0.075,-0.025,0.025,0.075],"labels":false,"ticks":false,"gridWidth":1}}}},
{"data":{"name":"curves"},"transform":[{"filter":"datum.p==1"},{"fold":["n","r"],"as":["s","y"]}],"mark":"line","encoding":{
"x":{"field":"x","type":"quantitative","scale":{"domain":[22,159.5],"nice":false,"zero":false},"axis":{"title":null,"format":"d","values":[40,60,80,100,120,140],"labelExpr":"datum.value%40?'':datum.label","tickOpacity":{"condition":{"test":"datum.value%40","value":0},"value":1},"gridWidth":{"condition":{"test":"datum.value%40","value":1},"value":2}}},
"y":{"field":"y","type":"quantitative","scale":{"domain":[-0.0903,0.1284],"nice":false,"zero":false},"axis":{"title":null,"orient":"left","grid":true,"format":".2f","values":[-0.05,0,0.05],"gridWidth":2}},
"color":{"field":"s","type":"nominal","scale":{"domain":["n","r"],"range":["#ff0000","#0000ff"]},"legend":{"title":null,"labelExpr":"datum.label=='n'?'New_11-15 - Reference_4':'Ref_11-15 - Reference_4'"}}}}
]},
{"width":228,"height":132,"data":{"name":"panels"},"transform":[{"filter":"datum.p==2"}],"resolve":{"axis":{"y":"independent"}},"layer":[
{"mark":"rect","encoding":{"y":{"datum":0.0886,"type":"quantitative","axis":null},"y2":{"datum":0.1284}}},
{"mark":"text","encoding":{"y":{"datum":0.1085,"type":"quantitative","axis":null},"text":{"field":"name"}}},
{"mark":"rule","encoding":{"y":{"datum":0,"type":"quantitative","axis":{"title":null,"orient":"left","grid":true,"values":[-0.075,-0.025,0.025,0.075],"labels":false,"ticks":false,"gridWidth":1}}}},
{"data":{"name":"curves"},"transform":[{"filter":"datum.p==2"},{"fold":["n","r"],"as":["s","y"]}],"mark":"line","encoding":{
"x":{"field":"x","type":"quantitative","scale":{"domain":[24.7,160.3],"nice":false,"zero":false},"axis":{"title":null,"format":"d","values":[40,60,80,100,120,140,160],"labelExpr":"datum.value%40?'':datum.label","tickOpacity":{"condition":{"test":"datum.value%40","value":0},"value":1},"gridWidth":{"condition":{"test":"datum.value%40","value":1},"value":2}}},
"y":{"field":"y","type":"quantitative","scale":{"domain":[-0.0903,0.1284],"nice":false,"zero":false},"axis":{"title":null,"orient":"left","grid":true,"values":[-0.05,0,0.05],"labels":false,"ticks":false,"gridWidth":2}},
"color":{"field":"s","type":"nominal","scale":{"domain":["n","r"],"range":["#ff0000","#0000ff"]}}}}
]},
{"width":228,"height":132,"data":{"name":"panels"},"transform":[{"filter":"datum.p==3"}],"resolve":{"axis":{"y":"independent"}},"layer":[
{"mark":"rect","encoding":{"y":{"datum":0.0886,"type":"quantitative","axis":null},"y2":{"datum":0.1284}}},
{"mark":"text","encoding":{"y":{"datum":0.1085,"type":"quantitative","axis":null},"text":{"field":"name"}}},
{"mark":"rule","encoding":{"y":{"datum":0,"type":"quantitative","axis":{"title":null,"orient":"left","grid":true,"values":[-0.075,-0.025,0.025,0.075],"labels":false,"ticks":false,"gridWidth":1}}}},
{"data":{"name":"curves"},"transform":[{"filter":"datum.p==3"},{"fold":["n","r"],"as":["s","y"]}],"mark":"line","encoding":{
"x":{"field":"x","type":"quantitative","scale":{"domain":[24.2,163.7],"nice":false,"zero":false},"axis":{"title":null,"format":"d","values":[40,60,80,100,120,140,160],"labelExpr":"datum.value%40?'':datum.label","tickOpacity":{"condition":{"test":"datum.value%40","value":0},"value":1},"gridWidth":{"condition":{"test":"datum.value%40","value":1},"value":2}}},
"y":{"field":"y","type":"quantitative","scale":{"domain":[-0.0903,0.1284],"nice":false,"zero":false},"axis":{"title":null,"orient":"left","grid":true,"values":[-0.05,0,0.05],"labels":false,"ticks":false,"gridWidth":2}},
"color":{"field":"s","type":"nominal","scale":{"domain":["n","r"],"range":["#ff0000","#0000ff"]}}}}
]},
{"width":228,"height":132,"data":{"name":"panels"},"transform":[{"filter":"datum.p==4"}],"resolve":{"axis":{"y":"independent"}},"layer":[
{"mark":"rect","encoding":{"y":{"datum":0.0886,"type":"quantitative","axis":null},"y2":{"datum":0.1284}}},
{"mark":"text","encoding":{"y":{"datum":0.1085,"type":"quantitative","axis":null},"text":{"field":"name"}}},
{"mark":"rule","encoding":{"y":{"datum":0,"type":"quantitative","axis":{"title":null,"orient":"left","grid":true,"values":[-0.075,-0.025,0.025,0.075],"labels":false,"ticks":false,"gridWidth":1}}}},
{"data":{"name":"curves"},"transform":[{"filter":"datum.p==4"},{"fold":["n","r"],"as":["s","y"]}],"mark":"line","encoding":{
"x":{"field":"x","type":"quantitative","scale":{"domain":[23.3,164.4],"nice":false,"zero":false},"axis":{"title":null,"format":"d","values":[40,60,80,100,120,140,160],"labelExpr":"datum.value%40?'':datum.label","tickOpacity":{"condition":{"test":"datum.value%40","value":0},"value":1},"gridWidth":{"condition":{"test":"datum.value%40","value":1},"value":2}}},
"y":{"field":"y","type":"quantitative","scale":{"domain":[-0.0903,0.1284],"nice":false,"zero":false},"axis":{"title":null,"orient":"left","grid":true,"values":[-0.05,0,0.05],"labels":false,"ticks":false,"gridWidth":2}},
"color":{"field":"s","type":"nominal","scale":{"domain":["n","r"],"range":["#ff0000","#0000ff"]}}}}
]},
{"width":228,"height":132,"data":{"name":"panels"},"transform":[{"filter":"datum.p==5"}],"resolve":{"axis":{"y":"independent"}},"layer":[
{"mark":"rect","encoding":{"y":{"datum":0.0886,"type":"quantitative","axis":null},"y2":{"datum":0.1284}}},
{"mark":"text","encoding":{"y":{"datum":0.1085,"type":"quantitative","axis":null},"text":{"field":"name"}}},
{"mark":"rule","encoding":{"y":{"datum":0,"type":"quantitative","axis":{"title":null,"orient":"left","grid":true,"values":[-0.075,-0.025,0.025,0.075],"labels":false,"ticks":false,"gridWidth":1}}}},
{"data":{"name":"curves"},"transform":[{"filter":"datum.p==5"},{"fold":["n","r"],"as":["s","y"]}],"mark":"line","encoding":{
"x":{"field":"x","type":"quantitative","scale":{"domain":[22,166],"nice":false,"zero":false},"axis":{"title":null,"format":"d","values":[40,60,80,100,120,140,160],"labelExpr":"datum.value%40?'':datum.label","tickOpacity":{"condition":{"test":"datum.value%40","value":0},"value":1},"gridWidth":{"condition":{"test":"datum.value%40","value":1},"value":2}}},
"y":{"field":"y","type":"quantitative","scale":{"domain":[-0.0903,0.1284],"nice":false,"zero":false},"axis":{"title":null,"orient":"left","grid":true,"values":[-0.05,0,0.05],"labels":false,"ticks":false,"gridWidth":2}},
"color":{"field":"s","type":"nominal","scale":{"domain":["n","r"],"range":["#ff0000","#0000ff"]}}}}
]},
{"width":228,"height":132,"data":{"name":"panels"},"transform":[{"filter":"datum.p==6"}],"resolve":{"axis":{"y":"independent"}},"layer":[
{"mark":"rect","encoding":{"y":{"datum":0.0886,"type":"quantitative","axis":null},"y2":{"datum":0.1284}}},
{"mark":"text","encoding":{"y":{"datum":0.1085,"type":"quantitative","axis":null},"text":{"field":"name"}}},
{"mark":"rule","encoding":{"y":{"datum":0,"type":"quantitative","axis":{"title":null,"orient":"left","grid":true,"values":[-0.075,-0.025,0.025,0.075],"labels":false,"ticks":false,"gridWidth":1}}}},
{"data":{"name":"curves"},"transform":[{"filter":"datum.p==6"},{"fold":["n","r"],"as":["s","y"]}],"mark":"line","encoding":{
"x":{"field":"x","type":"quantitative","scale":{"domain":[24.3,166],"nice":false,"zero":false},"axis":{"title":null,"format":"d","values":[40,60,80,100,120,140,160],"labelExpr":"datum.value%40?'':datum.label","tickOpacity":{"condition":{"test":"datum.value%40","value":0},"value":1},"gridWidth":{"condition":{"test":"datum.value%40","value":1},"value":2}}},
"y":{"field":"y","type":"quantitative","scale":{"domain":[-0.0903,0.1284],"nice":false,"zero":false},"axis":{"title":null,"orient":"left","grid":true,"values":[-0.05,0,0.05],"labels":false,"ticks":false,"gridWidth":2}},
"color":{"field":"s","type":"nominal","scale":{"domain":["n","r"],"range":["#ff0000","#0000ff"]}}}}
]},
{"width":228,"height":132,"data":{"name":"panels"},"transform":[{"filter":"datum.p==7"}],"resolve":{"axis":{"y":"independent"}},"layer":[
{"mark":"rect","encoding":{"y":{"datum":0.0886,"type":"quantitative","axis":null},"y2":{"datum":0.1284}}},
{"mark":"text","encoding":{"y":{"datum":0.1085,"type":"quantitative","axis":null},"text":{"field":"name"}}},
{"mark":"rule","encoding":{"y":{"datum":0,"type":"quantitative","axis":{"title":null,"orient":"left","grid":true,"values":[-0.075,-0.025,0.025,0.075],"labels":false,"ticks":false,"gridWidth":1}}}},
{"data":{"name":"curves"},"transform":[{"filter":"datum.p==7"},{"fold":["n","r"],"as":["s","y"]}],"mark":"line","encoding":{
"x":{"field":"x","type":"quantitative","scale":{"domain":[24.2,170],"nice":false,"zero":false},"axis":{"title":null,"format":"d","values":[40,60,80,100,120,140,160],"labelExpr":"datum.value%40?'':datum.label","tickOpacity":{"condition":{"test":"datum.value%40","value":0},"value":1},"gridWidth":{"condition":{"test":"datum.value%40","value":1},"value":2}}},
"y":{"field":"y","type":"quantitative","scale":{"domain":[-0.0903,0.1284],"nice":false,"zero":false},"axis":{"title":null,"orient":"left","grid":true,"values":[-0.05,0,0.05],"labels":false,"ticks":false,"gridWidth":2}},
"color":{"field":"s","type":"nominal","scale":{"domain":["n","r"],"range":["#ff0000","#0000ff"]}}}}
]},
{"width":228,"height":132,"data":{"name":"panels"},"transform":[{"filter":"datum.p==8"}],"resolve":{"axis":{"y":"independent"}},"layer":[
{"mark":"rect","encoding":{"y":{"datum":0.0886,"type":"quantitative","axis":null},"y2":{"datum":0.1284}}},
{"mark":"text","encoding":{"y":{"datum":0.1085,"type":"quantitative","axis":null},"text":{"field":"name"}}},
{"mark":"rule","encoding":{"y":{"datum":0,"type":"quantitative","axis":{"title":null,"orient":"left","grid":true,"values":[-0.075,-0.025,0.025,0.075],"labels":false,"ticks":false,"gridWidth":1}}}},
{"data":{"name":"curves"},"transform":[{"filter":"datum.p==8"},{"fold":["n","r"],"as":["s","y"]}],"mark":"line","encoding":{
"x":{"field":"x","type":"quantitative","scale":{"domain":[21.8,166],"nice":false,"zero":false},"axis":{"title":null,"format":"d","values":[40,60,80,100,120,140,160],"labelExpr":"datum.value%40?'':datum.label","tickOpacity":{"condition":{"test":"datum.value%40","value":0},"value":1},"gridWidth":{"condition":{"test":"datum.value%40","value":1},"value":2}}},
"y":{"field":"y","type":"quantitative","scale":{"domain":[-0.0903,0.1284],"nice":false,"zero":false},"axis":{"title":null,"orient":"left","grid":true,"format":".2f","values":[-0.05,0,0.05],"gridWidth":2}},
"color":{"field":"s","type":"nominal","scale":{"domain":["n","r"],"range":["#ff0000","#0000ff"]}}}}
]},
{"width":228,"height":132,"data":{"name":"panels"},"transform":[{"filter":"datum.p==9"}],"resolve":{"axis":{"y":"independent"}},"layer":[
{"mark":"rect","encoding":{"y":{"datum":0.0886,"type":"quantitative","axis":null},"y2":{"datum":0.1284}}},
{"mark":"text","encoding":{"y":{"datum":0.1085,"type":"quantitative","axis":null},"text":{"field":"name"}}},
{"mark":"rule","encoding":{"y":{"datum":0,"type":"quantitative","axis":{"title":null,"orient":"left","grid":true,"values":[-0.075,-0.025,0.025,0.075],"labels":false,"ticks":false,"gridWidth":1}}}},
{"data":{"name":"curves"},"transform":[{"filter":"datum.p==9"},{"fold":["n","r"],"as":["s","y"]}],"mark":"line","encoding":{
"x":{"field":"x","type":"quantitative","scale":{"domain":[24,166],"nice":false,"zero":false},"axis":{"title":null,"format":"d","values":[40,60,80,100,120,140,160],"labelExpr":"datum.value%40?'':datum.label","tickOpacity":{"condition":{"test":"datum.value%40","value":0},"value":1},"gridWidth":{"condition":{"test":"datum.value%40","value":1},"value":2}}},
"y":{"field":"y","type":"quantitative","scale":{"domain":[-0.0903,0.1284],"nice":false,"zero":false},"axis":{"title":null,"orient":"left","grid":true,"values":[-0.05,0,0.05],"labels":false,"ticks":false,"gridWidth":2}},
"color":{"field":"s","type":"nominal","scale":{"domain":["n","r"],"range":["#ff0000","#0000ff"]}}}}
]},
{"width":228,"height":132,"data":{"name":"panels"},"transform":[{"filter":"datum.p==10"}],"resolve":{"axis":{"y":"independent"}},"layer":[
{"mark":"rect","encoding":{"y":{"datum":0.0886,"type":"quantitative","axis":null},"y2":{"datum":0.1284}}},
{"mark":"text","encoding":{"y":{"datum":0.1085,"type":"quantitative","axis":null},"text":{"field":"name"}}},
{"mark":"rule","encoding":{"y":{"datum":0,"type":"quantitative","axis":{"title":null,"orient":"left","grid":true,"values":[-0.075,-0.025,0.025,0.075],"labels":false,"ticks":false,"gridWidth":1}}}},
{"data":{"name":"curves"},"transform":[{"filter":"datum.p==10"},{"fold":["n","r"],"as":["s","y"]}],"mark":"line","encoding":{
"x":{"field":"x","type":"quantitative","scale":{"domain":[23.3,163.7],"nice":false,"zero":false},"axis":{"title":null,"format":"d","values":[40,60,80,100,120,140,160],"labelExpr":"datum.value%40?'':datum.label","tickOpacity":{"condition":{"test":"datum.value%40","value":0},"value":1},"gridWidth":{"condition":{"test":"datum.value%40","value":1},"value":2}}},
"y":{"field":"y","type":"quantitative","scale":{"domain":[-0.0903,0.1284],"nice":false,"zero":false},"axis":{"title":null,"orient":"left","grid":true,"values":[-0.05,0,0.05],"labels":false,"ticks":false,"gridWidth":2}},
"color":{"field":"s","type":"nominal","scale":{"domain":["n","r"],"range":["#ff0000","#0000ff"]}}}}
]},
{"width":228,"height":132,"data":{"name":"panels"},"transform":[{"filter":"datum.p==11"}],"resolve":{"axis":{"y":"independent"}},"layer":[
{"mark":"rect","encoding":{"y":{"datum":0.0886,"type":"quantitative","axis":null},"y2":{"datum":0.1284}}},
{"mark":"text","encoding":{"y":{"datum":0.1085,"type":"quantitative","axis":null},"text":{"field":"name"}}},
{"mark":"rule","encoding":{"y":{"datum":0,"type":"quantitative","axis":{"title":null,"orient":"left","grid":true,"values":[-0.075,-0.025,0.025,0.075],"labels":false,"ticks":false,"gridWidth":1}}}},
{"data":{"name":"curves"},"transform":[{"filter":"datum.p==11"},{"fold":["n","r"],"as":["s","y"]}],"mark":"line","encoding":{
"x":{"field":"x","type":"quantitative","scale":{"domain":[28.2,154.8],"nice":false,"zero":false},"axis":{"title":null,"format":"d","values":[30,45,60,75,90,105,120,135,150],"labelExpr":"datum.value%30?'':datum.label","tickOpacity":{"condition":{"test":"datum.value%30","value":0},"value":1},"gridWidth":{"condition":{"test":"datum.value%30","value":1},"value":2}}},
"y":{"field":"y","type":"quantitative","scale":{"domain":[-0.0903,0.1284],"nice":false,"zero":false},"axis":{"title":null,"orient":"left","grid":true,"values":[-0.05,0,0.05],"labels":false,"ticks":false,"gridWidth":2}},
"color":{"field":"s","type":"nominal","scale":{"domain":["n","r"],"range":["#ff0000","#0000ff"]}}}}
]},
{"width":228,"height":132,"data":{"name":"panels"},"transform":[{"filter":"datum.p==12"}],"resolve":{"axis":{"y":"independent"}},"layer":[
{"mark":"rect","encoding":{"y":{"datum":0.0886,"type":"quantitative","axis":null},"y2":{"datum":0.1284}}},
{"mark":"text","encoding":{"y":{"datum":0.1085,"type":"quantitative","axis":null},"text":{"field":"name"}}},
{"mark":"rule","encoding":{"y":{"datum":0,"type":"quantitative","axis":{"title":null,"orient":"left","grid":true,"values":[-0.075,-0.025,0.025,0.075],"labels":false,"ticks":false,"gridWidth":1}}}},
{"data":{"name":"curves"},"transform":[{"filter":"datum.p==12"},{"fold":["n","r"],"as":["s","y"]}],"mark":"line","encoding":{
"x":{"field":"x","type":"quantitative","scale":{"domain":[81,317],"nice":false,"zero":false},"axis":{"title":null,"format":"d","values":[100,125,150,175,200,225,250,275,300],"labelExpr":"datum.value%50?'':datum.label","tickOpacity":{"condition":{"test":"datum.value%50","value":0},"value":1},"gridWidth":{"condition":{"test":"datum.value%50","value":1},"value":2}}},
"y":{"field":"y","type":"quantitative","scale":{"domain":[-0.0903,0.1284],"nice":false,"zero":false},"axis":{"title":null,"orient":"left","grid":true,"values":[-0.05,0,0.05],"labels":false,"ticks":false,"gridWidth":2}},
"color":{"field":"s","type":"nominal","scale":{"domain":["n","r"],"range":["#ff0000","#0000ff"]}}}}
]},
{"width":228,"height":132,"data":{"name":"panels"},"transform":[{"filter":"datum.p==13"}],"resolve":{"axis":{"y":"independent"}},"layer":[
{"mark":"rect","encoding":{"y":{"datum":0.0886,"type":"quantitative","axis":null},"y2":{"datum":0.1284}}},
{"mark":"text","encoding":{"y":{"datum":0.1085,"type":"quantitative","axis":null},"text":{"field":"name"}}},
{"mark":"rule","encoding":{"y":{"datum":0,"type":"quantitative","axis":{"title":null,"orient":"left","grid":true,"values":[-0.075,-0.025,0.025,0.075],"labels":false,"ticks":false,"gridWidth":1}}}},
{"data":{"name":"curves"},"transform":[{"filter":"datum.p==13"},{"fold":["n","r"],"as":["s","y"]}],"mark":"line","encoding":{
"x":{"field":"x","type":"quantitative","scale":{"domain":[76.4,311],"nice":false,"zero":false},"axis":{"title":null,"format":"d","values":[100,125,150,175,200,225,250,275,300],"labelExpr":"datum.value%50?'':datum.label","tickOpacity":{"condition":{"test":"datum.value%50","value":0},"value":1},"gridWidth":{"condition":{"test":"datum.value%50","value":1},"value":2}}},
"y":{"field":"y","type":"quantitative","scale":{"domain":[-0.0903,0.1284],"nice":false,"zero":false},"axis":{"title":null,"orient":"left","grid":true,"values":[-0.05,0,0.05],"labels":false,"ticks":false,"gridWidth":2}},
"color":{"field":"s","type":"nominal","scale":{"domain":["n","r"],"range":["#ff0000","#0000ff"]}}}}
]},
{"width":228,"height":132,"data":{"name":"panels"},"transform":[{"filter":"datum.p==14"}],"resolve":{"axis":{"y":"independent"}},"layer":[
{"mark":"rect","encoding":{"y":{"datum":0.0886,"type":"quantitative","axis":null},"y2":{"datum":0.1284}}},
{"mark":"text","encoding":{"y":{"datum":0.1085,"type":"quantitative","axis":null},"text":{"field":"name"}}},
{"mark":"rule","encoding":{"y":{"datum":0,"type":"quantitative","axis":{"title":null,"orient":"left","grid":true,"values":[-0.075,-0.025,0.025,0.075],"labels":false,"ticks":false,"gridWidth":1}}}},
{"data":{"name":"curves"},"transform":[{"filter":"datum.p==14"},{"fold":["n","r"],"as":["s","y"]}],"mark":"line","encoding":{
"x":{"field":"x","type":"quantitative","scale":{"domain":[40.6,156.1],"nice":false,"zero":false},"axis":{"title":null,"format":"d","values":[50,62.5,75,87.5,100,112.5,125,137.5,150],"labelExpr":"datum.value%25?'':datum.label","tickOpacity":{"condition":{"test":"datum.value%25","value":0},"value":1},"gridWidth":{"condition":{"test":"datum.value%25","value":1},"value":2}}},
"y":{"field":"y","type":"quantitative","scale":{"domain":[-0.0903,0.1284],"nice":false,"zero":false},"axis":{"title":null,"orient":"left","grid":true,"values":[-0.05,0,0.05],"labels":false,"ticks":false,"gridWidth":2}},
"color":{"field":"s","type":"nominal","scale":{"domain":["n","r"],"range":["#ff0000","#0000ff"]}}}}
]},
{"width":228,"height":132,"data":{"name":"panels"},"transform":[{"filter":"datum.p==15"}],"resolve":{"axis":{"y":"independent"}},"layer":[
{"mark":"rect","encoding":{"y":{"datum":0.0886,"type":"quantitative","axis":null},"y2":{"datum":0.1284}}},
{"mark":"text","encoding":{"y":{"datum":0.1085,"type":"quantitative","axis":null},"text":{"field":"name"}}},
{"mark":"rule","encoding":{"y":{"datum":0,"type":"quantitative","axis":{"title":null,"orient":"left","grid":true,"values":[-0.075,-0.025,0.025,0.075],"labels":false,"ticks":false,"gridWidth":1}}}},
{"data":{"name":"curves"},"transform":[{"filter":"datum.p==15"},{"fold":["n","r"],"as":["s","y"]}],"mark":"line","encoding":{
"x":{"field":"x","type":"quantitative","scale":{"domain":[53,241],"nice":false,"zero":false},"axis":{"title":null,"format":"d","values":[75,100,125,150,175,200,225],"labelExpr":"datum.value%50?'':datum.label","tickOpacity":{"condition":{"test":"datum.value%50","value":0},"value":1},"gridWidth":{"condition":{"test":"datum.value%50","value":1},"value":2}}},
"y":{"field":"y","type":"quantitative","scale":{"domain":[-0.0903,0.1284],"nice":false,"zero":false},"axis":{"title":null,"orient":"left","grid":true,"format":".2f","values":[-0.05,0,0.05],"gridWidth":2}},
"color":{"field":"s","type":"nominal","scale":{"domain":["n","r"],"range":["#ff0000","#0000ff"]}}}}
]},
{"width":228,"height":132,"data":{"name":"panels"},"transform":[{"filter":"datum.p==16"}],"resolve":{"axis":{"y":"independent"}},"layer":[
{"mark":"rect","encoding":{"y":{"datum":0.0886,"type":"quantitative","axis":null},"y2":{"datum":0.1284}}},
{"mark":"text","encoding":{"y":{"datum":0.1085,"type":"quantitative","axis":null},"text":{"field":"name"}}},
{"mark":"rule","encoding":{"y":{"datum":0,"type":"quantitative","axis":{"title":null,"orient":"left","grid":true,"values":[-0.075,-0.025,0.025,0.075],"labels":false,"ticks":false,"gridWidth":1}}}},
{"data":{"name":"curves"},"transform":[{"filter":"datum.p==16"},{"fold":["n","r"],"as":["s","y"]}],"mark":"line","encoding":{
"x":{"field":"x","type":"quantitative","scale":{"domain":[54,231.2],"nice":false,"zero":false},"axis":{"title":null,"format":"d","values":[75,100,125,150,175,200,225],"labelExpr":"datum.value%50?'':datum.label","tickOpacity":{"condition":{"test":"datum.value%50","value":0},"value":1},"gridWidth":{"condition":{"test":"datum.value%50","value":1},"value":2}}},
"y":{"field":"y","type":"quantitative","scale":{"domain":[-0.0903,0.1284],"nice":false,"zero":false},"axis":{"title":null,"orient":"left","grid":true,"values":[-0.05,0,0.05],"labels":false,"ticks":false,"gridWidth":2}},
"color":{"field":"s","type":"nominal","scale":{"domain":["n","r"],"range":["#ff0000","#0000ff"]}}}},
{"mark":{"type":"rect","fill":"#ffffff","fillOpacity":0,"stroke":"#d7262b","strokeWidth":7,"cornerRadius":28,"strokeDash":[4,176,214,176,210,20]},"encoding":{"x":{"datum":50.9,"type":"quantitative"},"x2":{"datum":237.4},"y":{"datum":0.1483,"type":"quantitative","axis":null},"y2":{"datum":-0.1400}}}
]},
{"width":228,"height":132,"data":{"name":"panels"},"transform":[{"filter":"datum.p==17"}],"resolve":{"axis":{"y":"independent"}},"layer":[
{"mark":"rect","encoding":{"y":{"datum":0.0886,"type":"quantitative","axis":null},"y2":{"datum":0.1284}}},
{"mark":"text","encoding":{"y":{"datum":0.1085,"type":"quantitative","axis":null},"text":{"field":"name"}}},
{"mark":"rule","encoding":{"y":{"datum":0,"type":"quantitative","axis":{"title":null,"orient":"left","grid":true,"values":[-0.075,-0.025,0.025,0.075],"labels":false,"ticks":false,"gridWidth":1}}}},
{"data":{"name":"curves"},"transform":[{"filter":"datum.p==17"},{"fold":["n","r"],"as":["s","y"]}],"mark":"line","encoding":{
"x":{"field":"x","type":"quantitative","scale":{"domain":[69.8,309.7],"nice":false,"zero":false},"axis":{"title":null,"format":"d","values":[75,100,125,150,175,200,225,250,275,300],"labelExpr":"datum.value%50?'':datum.label","tickOpacity":{"condition":{"test":"datum.value%50","value":0},"value":1},"gridWidth":{"condition":{"test":"datum.value%50","value":1},"value":2}}},
"y":{"field":"y","type":"quantitative","scale":{"domain":[-0.0903,0.1284],"nice":false,"zero":false},"axis":{"title":null,"orient":"left","grid":true,"values":[-0.05,0,0.05],"labels":false,"ticks":false,"gridWidth":2}},
"color":{"field":"s","type":"nominal","scale":{"domain":["n","r"],"range":["#ff0000","#0000ff"]}}}}
]},
{"width":228,"height":132,"data":{"name":"panels"},"transform":[{"filter":"datum.p==18"}],"resolve":{"axis":{"y":"independent"}},"layer":[
{"mark":"rect","encoding":{"y":{"datum":0.0886,"type":"quantitative","axis":null},"y2":{"datum":0.1284}}},
{"mark":"text","encoding":{"y":{"datum":0.1085,"type":"quantitative","axis":null},"text":{"field":"name"}}},
{"mark":"rule","encoding":{"y":{"datum":0,"type":"quantitative","axis":{"title":null,"orient":"left","grid":true,"values":[-0.075,-0.025,0.025,0.075],"labels":false,"ticks":false,"gridWidth":1}}}},
{"data":{"name":"curves"},"transform":[{"filter":"datum.p==18"},{"fold":["n","r"],"as":["s","y"]}],"mark":"line","encoding":{
"x":{"field":"x","type":"quantitative","scale":{"domain":[75.9,304],"nice":false,"zero":false},"axis":{"title":null,"format":"d","values":[100,125,150,175,200,225,250,275,300],"labelExpr":"datum.value%50?'':datum.label","tickOpacity":{"condition":{"test":"datum.value%50","value":0},"value":1},"gridWidth":{"condition":{"test":"datum.value%50","value":1},"value":2}}},
"y":{"field":"y","type":"quantitative","scale":{"domain":[-0.0903,0.1284],"nice":false,"zero":false},"axis":{"title":null,"orient":"left","grid":true,"values":[-0.05,0,0.05],"labels":false,"ticks":false,"gridWidth":2}},
"color":{"field":"s","type":"nominal","scale":{"domain":["n","r"],"range":["#ff0000","#0000ff"]}}}},
{"mark":{"type":"rect","fill":"#ffffff","fillOpacity":0,"stroke":"#d7262b","strokeWidth":7,"cornerRadius":28,"strokeDash":[4,176,214,176,210,20]},"encoding":{"x":{"datum":71.9,"type":"quantitative"},"x2":{"datum":312},"y":{"datum":0.1483,"type":"quantitative","axis":null},"y2":{"datum":-0.1400}}}
]},
{"width":228,"height":132,"data":{"name":"panels"},"transform":[{"filter":"datum.p==19"}],"resolve":{"axis":{"y":"independent"}},"layer":[
{"mark":"rect","encoding":{"y":{"datum":0.0886,"type":"quantitative","axis":null},"y2":{"datum":0.1284}}},
{"mark":"text","encoding":{"y":{"datum":0.1085,"type":"quantitative","axis":null},"text":{"field":"name"}}},
{"mark":"rule","encoding":{"y":{"datum":0,"type":"quantitative","axis":{"title":null,"orient":"left","grid":true,"values":[-0.075,-0.025,0.025,0.075],"labels":false,"ticks":false,"gridWidth":1}}}},
{"data":{"name":"curves"},"transform":[{"filter":"datum.p==19"},{"fold":["n","r"],"as":["s","y"]}],"mark":"line","encoding":{
"x":{"field":"x","type":"quantitative","scale":{"domain":[54.6,233.3],"nice":false,"zero":false},"axis":{"title":null,"format":"d","values":[75,100,125,150,175,200,225],"labelExpr":"datum.value%50?'':datum.label","tickOpacity":{"condition":{"test":"datum.value%50","value":0},"value":1},"gridWidth":{"condition":{"test":"datum.value%50","value":1},"value":2}}},
"y":{"field":"y","type":"quantitative","scale":{"domain":[-0.0903,0.1284],"nice":false,"zero":false},"axis":{"title":null,"orient":"left","grid":true,"values":[-0.05,0,0.05],"labels":false,"ticks":false,"gridWidth":2}},
"color":{"field":"s","type":"nominal","scale":{"domain":["n","r"],"range":["#ff0000","#0000ff"]}}}}
]},
{"width":228,"height":132,"data":{"name":"panels"},"transform":[{"filter":"datum.p==20"}],"resolve":{"axis":{"y":"independent"}},"layer":[
{"mark":"rect","encoding":{"y":{"datum":0.0886,"type":"quantitative","axis":null},"y2":{"datum":0.1284}}},
{"mark":"text","encoding":{"y":{"datum":0.1085,"type":"quantitative","axis":null},"text":{"field":"name"}}},
{"mark":"rule","encoding":{"y":{"datum":0,"type":"quantitative","axis":{"title":null,"orient":"left","grid":true,"values":[-0.075,-0.025,0.025,0.075],"labels":false,"ticks":false,"gridWidth":1}}}},
{"data":{"name":"curves"},"transform":[{"filter":"datum.p==20"},{"fold":["n","r"],"as":["s","y"]}],"mark":"line","encoding":{
"x":{"field":"x","type":"quantitative","scale":{"domain":[34.6,156],"nice":false,"zero":false},"axis":{"title":null,"format":"d","values":[45,60,75,90,105,120,135,150],"labelExpr":"datum.value%30?'':datum.label","tickOpacity":{"condition":{"test":"datum.value%30","value":0},"value":1},"gridWidth":{"condition":{"test":"datum.value%30","value":1},"value":2}}},
"y":{"field":"y","type":"quantitative","scale":{"domain":[-0.0903,0.1284],"nice":false,"zero":false},"axis":{"title":null,"orient":"left","grid":true,"values":[-0.05,0,0.05],"labels":false,"ticks":false,"gridWidth":2}},
"color":{"field":"s","type":"nominal","scale":{"domain":["n","r"],"range":["#ff0000","#0000ff"]}}}}
]},
{"width":228,"height":132,"data":{"name":"panels"},"transform":[{"filter":"datum.p==21"}],"resolve":{"axis":{"y":"independent"}},"layer":[
{"mark":"rect","encoding":{"y":{"datum":0.0886,"type":"quantitative","axis":null},"y2":{"datum":0.1284}}},
{"mark":"text","encoding":{"y":{"datum":0.1085,"type":"quantitative","axis":null},"text":{"field":"name"}}},
{"mark":"rule","encoding":{"y":{"datum":0,"type":"quantitative","axis":{"title":null,"orient":"left","grid":true,"values":[-0.075,-0.025,0.025,0.075],"labels":false,"ticks":false,"gridWidth":1}}}},
{"data":{"name":"curves"},"transform":[{"filter":"datum.p==21"},{"fold":["n","r"],"as":["s","y"]}],"mark":"line","encoding":{
"x":{"field":"x","type":"quantitative","scale":{"domain":[-3.1,103.8],"nice":false,"zero":false},"axis":{"title":null,"format":"d","values":[0,12.5,25,37.5,50,62.5,75,87.5,100],"labelExpr":"datum.value%25?'':datum.label","tickOpacity":{"condition":{"test":"datum.value%25","value":0},"value":1},"gridWidth":{"condition":{"test":"datum.value%25","value":1},"value":2}}},
"y":{"field":"y","type":"quantitative","scale":{"domain":[-0.0903,0.1284],"nice":false,"zero":false},"axis":{"title":null,"orient":"left","grid":true,"values":[-0.05,0,0.05],"labels":false,"ticks":false,"gridWidth":2}},
"color":{"field":"s","type":"nominal","scale":{"domain":["n","r"],"range":["#ff0000","#0000ff"]}}}}
]},
{"width":228,"height":132,"data":{"name":"panels"},"transform":[{"filter":"datum.p==22"}],"resolve":{"axis":{"y":"independent"}},"layer":[
{"mark":"rect","encoding":{"y":{"datum":0.0886,"type":"quantitative","axis":null},"y2":{"datum":0.1284}}},
{"mark":"text","encoding":{"y":{"datum":0.1085,"type":"quantitative","axis":null},"text":{"field":"name"}}},
{"mark":"rule","encoding":{"y":{"datum":0,"type":"quantitative","axis":{"title":null,"orient":"left","grid":true,"values":[-0.075,-0.025,0.025,0.075],"labels":false,"ticks":false,"gridWidth":1}}}},
{"data":{"name":"curves"},"transform":[{"filter":"datum.p==22"},{"fold":["n","r"],"as":["s","y"]}],"mark":"line","encoding":{
"x":{"field":"x","type":"quantitative","scale":{"domain":[-3,104],"nice":false,"zero":false},"axis":{"title":null,"format":"d","values":[0,12.5,25,37.5,50,62.5,75,87.5,100],"labelExpr":"datum.value%25?'':datum.label","tickOpacity":{"condition":{"test":"datum.value%25","value":0},"value":1},"gridWidth":{"condition":{"test":"datum.value%25","value":1},"value":2}}},
"y":{"field":"y","type":"quantitative","scale":{"domain":[-0.0903,0.1284],"nice":false,"zero":false},"axis":{"title":null,"orient":"left","grid":true,"format":".2f","values":[-0.05,0,0.05],"gridWidth":2}},
"color":{"field":"s","type":"nominal","scale":{"domain":["n","r"],"range":["#ff0000","#0000ff"]}}}}
]},
{"width":228,"height":132,"data":{"name":"panels"},"transform":[{"filter":"datum.p==23"}],"resolve":{"axis":{"y":"independent"}},"layer":[
{"mark":"rect","encoding":{"y":{"datum":0.0886,"type":"quantitative","axis":null},"y2":{"datum":0.1284}}},
{"mark":"text","encoding":{"y":{"datum":0.1085,"type":"quantitative","axis":null},"text":{"field":"name"}}},
{"mark":"rule","encoding":{"y":{"datum":0,"type":"quantitative","axis":{"title":null,"orient":"left","grid":true,"values":[-0.075,-0.025,0.025,0.075],"labels":false,"ticks":false,"gridWidth":1}}}},
{"data":{"name":"curves"},"transform":[{"filter":"datum.p==23"},{"fold":["n","r"],"as":["s","y"]}],"mark":"line","encoding":{
"x":{"field":"x","type":"quantitative","scale":{"domain":[-3,104],"nice":false,"zero":false},"axis":{"title":null,"format":"d","values":[0,12.5,25,37.5,50,62.5,75,87.5,100],"labelExpr":"datum.value%25?'':datum.label","tickOpacity":{"condition":{"test":"datum.value%25","value":0},"value":1},"gridWidth":{"condition":{"test":"datum.value%25","value":1},"value":2}}},
"y":{"field":"y","type":"quantitative","scale":{"domain":[-0.0903,0.1284],"nice":false,"zero":false},"axis":{"title":null,"orient":"left","grid":true,"values":[-0.05,0,0.05],"labels":false,"ticks":false,"gridWidth":2}},
"color":{"field":"s","type":"nominal","scale":{"domain":["n","r"],"range":["#ff0000","#0000ff"]}}}}
]},
{"width":228,"height":132,"data":{"name":"panels"},"transform":[{"filter":"datum.p==24"}],"resolve":{"axis":{"y":"independent"}},"layer":[
{"mark":"rect","encoding":{"y":{"datum":0.0886,"type":"quantitative","axis":null},"y2":{"datum":0.1284}}},
{"mark":"text","encoding":{"y":{"datum":0.1085,"type":"quantitative","axis":null},"text":{"field":"name"}}},
{"mark":"rule","encoding":{"y":{"datum":0,"type":"quantitative","axis":{"title":null,"orient":"left","grid":true,"values":[-0.075,-0.025,0.025,0.075],"labels":false,"ticks":false,"gridWidth":1}}}},
{"data":{"name":"curves"},"transform":[{"filter":"datum.p==24"},{"fold":["n","r"],"as":["s","y"]}],"mark":"line","encoding":{
"x":{"field":"x","type":"quantitative","scale":{"domain":[-3,104],"nice":false,"zero":false},"axis":{"title":null,"format":"d","values":[0,12.5,25,37.5,50,62.5,75,87.5,100],"labelExpr":"datum.value%25?'':datum.label","tickOpacity":{"condition":{"test":"datum.value%25","value":0},"value":1},"gridWidth":{"condition":{"test":"datum.value%25","value":1},"value":2}}},
"y":{"field":"y","type":"quantitative","scale":{"domain":[-0.0903,0.1284],"nice":false,"zero":false},"axis":{"title":null,"orient":"left","grid":true,"values":[-0.05,0,0.05],"labels":false,"ticks":false,"gridWidth":2}},
"color":{"field":"s","type":"nominal","scale":{"domain":["n","r"],"range":["#ff0000","#0000ff"]}}}}
]},
{"width":228,"height":132,"data":{"name":"panels"},"transform":[{"filter":"datum.p==25"}],"resolve":{"axis":{"y":"independent"}},"layer":[
{"mark":"rect","encoding":{"y":{"datum":0.0886,"type":"quantitative","axis":null},"y2":{"datum":0.1284}}},
{"mark":"text","encoding":{"y":{"datum":0.1085,"type":"quantitative","axis":null},"text":{"field":"name"}}},
{"mark":"rule","encoding":{"y":{"datum":0,"type":"quantitative","axis":{"title":null,"orient":"left","grid":true,"values":[-0.075,-0.025,0.025,0.075],"labels":false,"ticks":false,"gridWidth":1}}}},
{"data":{"name":"curves"},"transform":[{"filter":"datum.p==25"},{"fold":["n","r"],"as":["s","y"]}],"mark":"line","encoding":{
"x":{"field":"x","type":"quantitative","scale":{"domain":[29.7,171],"nice":false,"zero":false},"axis":{"title":null,"format":"d","values":[40,60,80,100,120,140,160],"labelExpr":"datum.value%40?'':datum.label","tickOpacity":{"condition":{"test":"datum.value%40","value":0},"value":1},"gridWidth":{"condition":{"test":"datum.value%40","value":1},"value":2}}},
"y":{"field":"y","type":"quantitative","scale":{"domain":[-0.0903,0.1284],"nice":false,"zero":false},"axis":{"title":null,"orient":"left","grid":true,"values":[-0.05,0,0.05],"labels":false,"ticks":false,"gridWidth":2}},
"color":{"field":"s","type":"nominal","scale":{"domain":["n","r"],"range":["#ff0000","#0000ff"]}}}}
]},
{"width":228,"height":132,"data":{"name":"panels"},"transform":[{"filter":"datum.p==26"}],"resolve":{"axis":{"y":"independent"}},"layer":[
{"mark":"rect","encoding":{"y":{"datum":0.0886,"type":"quantitative","axis":null},"y2":{"datum":0.1284}}},
{"mark":"text","encoding":{"y":{"datum":0.1085,"type":"quantitative","axis":null},"text":{"field":"name"}}},
{"mark":"rule","encoding":{"y":{"datum":0,"type":"quantitative","axis":{"title":null,"orient":"left","grid":true,"values":[-0.075,-0.025,0.025,0.075],"labels":false,"ticks":false,"gridWidth":1}}}},
{"data":{"name":"curves"},"transform":[{"filter":"datum.p==26"},{"fold":["n","r"],"as":["s","y"]}],"mark":"line","encoding":{
"x":{"field":"x","type":"quantitative","scale":{"domain":[23.7,163.5],"nice":false,"zero":false},"axis":{"title":null,"format":"d","values":[40,60,80,100,120,140,160],"labelExpr":"datum.value%40?'':datum.label","tickOpacity":{"condition":{"test":"datum.value%40","value":0},"value":1},"gridWidth":{"condition":{"test":"datum.value%40","value":1},"value":2}}},
"y":{"field":"y","type":"quantitative","scale":{"domain":[-0.0903,0.1284],"nice":false,"zero":false},"axis":{"title":null,"orient":"left","grid":true,"values":[-0.05,0,0.05],"labels":false,"ticks":false,"gridWidth":2}},
"color":{"field":"s","type":"nominal","scale":{"domain":["n","r"],"range":["#ff0000","#0000ff"]}}}}
]},
{"width":228,"height":132,"data":{"name":"panels"},"transform":[{"filter":"datum.p==27"}],"resolve":{"axis":{"y":"independent"}},"layer":[
{"mark":"rect","encoding":{"y":{"datum":0.0886,"type":"quantitative","axis":null},"y2":{"datum":0.1284}}},
{"mark":"text","encoding":{"y":{"datum":0.1085,"type":"quantitative","axis":null},"text":{"field":"name"}}},
{"mark":"rule","encoding":{"y":{"datum":0,"type":"quantitative","axis":{"title":null,"orient":"left","grid":true,"values":[-0.075,-0.025,0.025,0.075],"labels":false,"ticks":false,"gridWidth":1}}}},
{"data":{"name":"curves"},"transform":[{"filter":"datum.p==27"},{"fold":["n","r"],"as":["s","y"]}],"mark":"line","encoding":{
"x":{"field":"x","type":"quantitative","scale":{"domain":[32.2,166.8],"nice":false,"zero":false},"axis":{"title":null,"format":"d","values":[40,60,80,100,120,140,160],"labelExpr":"datum.value%40?'':datum.label","tickOpacity":{"condition":{"test":"datum.value%40","value":0},"value":1},"gridWidth":{"condition":{"test":"datum.value%40","value":1},"value":2}}},
"y":{"field":"y","type":"quantitative","scale":{"domain":[-0.0903,0.1284],"nice":false,"zero":false},"axis":{"title":null,"orient":"left","grid":true,"values":[-0.05,0,0.05],"labels":false,"ticks":false,"gridWidth":2}},
"color":{"field":"s","type":"nominal","scale":{"domain":["n","r"],"range":["#ff0000","#0000ff"]}}}}
]},
{"width":228,"height":132,"data":{"name":"panels"},"transform":[{"filter":"datum.p==28"}],"resolve":{"axis":{"y":"independent"}},"layer":[
{"mark":"rect","encoding":{"y":{"datum":0.0886,"type":"quantitative","axis":null},"y2":{"datum":0.1284}}},
{"mark":"text","encoding":{"y":{"datum":0.1085,"type":"quantitative","axis":null},"text":{"field":"name"}}},
{"mark":"rule","encoding":{"y":{"datum":0,"type":"quantitative","axis":{"title":null,"orient":"left","grid":true,"values":[-0.075,-0.025,0.025,0.075],"labels":false,"ticks":false,"gridWidth":1}}}},
{"data":{"name":"curves"},"transform":[{"filter":"datum.p==28"},{"fold":["n","r"],"as":["s","y"]}],"mark":"line","encoding":{
"x":{"field":"x","type":"quantitative","scale":{"domain":[27.3,162.4],"nice":false,"zero":false},"axis":{"title":null,"format":"d","values":[40,60,80,100,120,140,160],"labelExpr":"datum.value%40?'':datum.label","tickOpacity":{"condition":{"test":"datum.value%40","value":0},"value":1},"gridWidth":{"condition":{"test":"datum.value%40","value":1},"value":2}}},
"y":{"field":"y","type":"quantitative","scale":{"domain":[-0.0903,0.1284],"nice":false,"zero":false},"axis":{"title":null,"orient":"left","grid":true,"values":[-0.05,0,0.05],"labels":false,"ticks":false,"gridWidth":2}},
"color":{"field":"s","type":"nominal","scale":{"domain":["n","r"],"range":["#ff0000","#0000ff"]}}}}
]},
{"width":228,"height":132,"data":{"name":"panels"},"transform":[{"filter":"datum.p==29"}],"resolve":{"axis":{"y":"independent"}},"layer":[
{"mark":"rect","encoding":{"y":{"datum":0.0886,"type":"quantitative","axis":null},"y2":{"datum":0.1284}}},
{"mark":"text","encoding":{"y":{"datum":0.1085,"type":"quantitative","axis":null},"text":{"field":"name"}}},
{"mark":"rule","encoding":{"y":{"datum":0,"type":"quantitative","axis":{"title":null,"orient":"left","grid":true,"values":[-0.075,-0.025,0.025,0.075],"labels":false,"ticks":false,"gridWidth":1}}}},
{"data":{"name":"curves"},"transform":[{"filter":"datum.p==29"},{"fold":["n","r"],"as":["s","y"]}],"mark":"line","encoding":{
"x":{"field":"x","type":"quantitative","scale":{"domain":[-3,104],"nice":false,"zero":false},"axis":{"title":null,"format":"d","values":[0,12.5,25,37.5,50,62.5,75,87.5,100],"labelExpr":"datum.value%25?'':datum.label","tickOpacity":{"condition":{"test":"datum.value%25","value":0},"value":1},"gridWidth":{"condition":{"test":"datum.value%25","value":1},"value":2}}},
"y":{"field":"y","type":"quantitative","scale":{"domain":[-0.0903,0.1284],"nice":false,"zero":false},"axis":{"title":null,"orient":"left","grid":true,"format":".2f","values":[-0.05,0,0.05],"gridWidth":2}},
"color":{"field":"s","type":"nominal","scale":{"domain":["n","r"],"range":["#ff0000","#0000ff"]}}}}
]},
{"width":228,"height":132,"view":{"stroke":null},"data":{"name":"notes"},"layer":[
{"transform":[{"filter":"datum.k=='x'"}],"mark":{"type":"text","fontSize":28,"color":"#000000","align":"center","baseline":"middle"},"encoding":{"x":{"datum":2.533,"type":"quantitative","scale":{"domain":[0,1],"nice":false,"zero":false},"axis":null},"y":{"datum":0.667,"type":"quantitative","scale":{"domain":[0,1],"nice":false,"zero":false},"axis":null},"text":{"field":"label"}}},
{"transform":[{"filter":"datum.k=='ao'"}],"mark":{"type":"text","fontSize":26,"fontWeight":"bold","color":"#d7262b","align":"left","baseline":"middle"},"encoding":{"x":{"datum":4.689,"type":"quantitative","axis":null},"y":{"datum":0.667,"type":"quantitative","axis":null},"text":{"field":"label"}}}
]}
]
}
